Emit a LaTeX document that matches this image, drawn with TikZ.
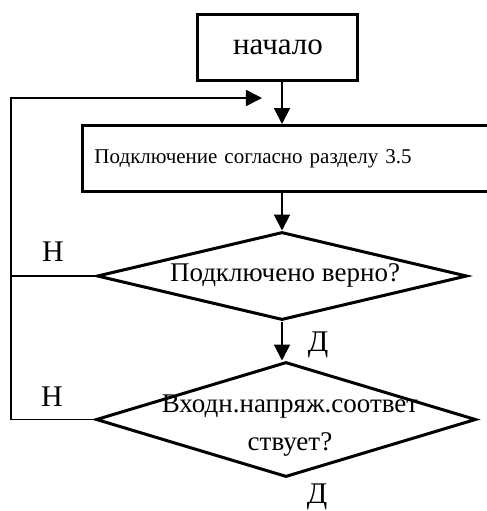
\documentclass[tikz,border=0pt]{standalone}
\usepackage{fontspec}
\setmainfont{Liberation Serif}
\usetikzlibrary{arrows.meta,positioning,shapes.geometric}
\tikzset{
  fc/.style={font=\fontsize{15}{18}\selectfont, text=black},
  fcbox/.style={draw=black, line width=1.5pt, align=center, inner sep=6pt},
  fcdec/.style={draw=black, diamond, line width=1.5pt, inner sep=0pt, aspect=4},
  fcarr/.style={-{Triangle[length=8pt,width=8pt]}, line width=1pt},
  fcline/.style={line width=0.8pt},
  fclbl/.style={font=\fontsize{15}{18}\selectfont, inner sep=0pt},
  fctxt/.style={font=\fontsize{13.5}{17}\selectfont, inner sep=0pt},
}
\begin{document}
\begin{tikzpicture}[fc, x=0.5pt, y=-0.5pt]
  \useasboundingbox (0,0) rectangle (487,511);
  % blocks
  \node[fcbox, minimum width=80pt, minimum height=33pt, font=\fontsize{15.5}{18}\selectfont] (start) at (278,47) {начало};
  \node[fcbox, anchor=north west, minimum height=33pt, text width=215pt, align=left,
    font=\fontsize{10.5}{13}\selectfont] (proc) at (81,124) {Подключение согласно разделу 3.5};
  \node[fcdec, minimum width=185pt, minimum height=44pt] (chk1) at (282,276) {};
  \node[fctxt] (chk1txt) at (285,275) {Подключено верно?};
  \node[fcdec, minimum width=190pt, minimum height=57.5pt] (chk2) at (286,419.5) {};
  \node[fctxt, align=center] (chk2txt) at (290,426) {Входн.напряж.соответ\\[2pt]ствует?};
  % answers
  \node[fclbl] (no1) at (53,252) {Н};
  \node[fclbl] (no2) at (52,397) {Н};
  \node[fclbl] (yes1) at (318,345) {Д};
  \node[fclbl] (yes2) at (317,497) {Д};
  \coordinate (lc) at (11,98);
  \coordinate (ltip) at (262,98);
  % connectors
  \draw[fcarr] (start.south -| chk1.north) -- (chk1.north |- proc.north);
  \draw[fcarr] (chk1.north |- proc.south) -- (chk1.north);
  \draw[fcarr] (chk1.south) -- (chk1.south |- chk2.north);
  \draw[fcline, -{Triangle[length=8pt,width=8pt]}] (chk2.west) -| (lc) -- (ltip);
  \draw[fcline] (chk1.west) -- (chk1.west -| lc);
\end{tikzpicture}
\end{document}
